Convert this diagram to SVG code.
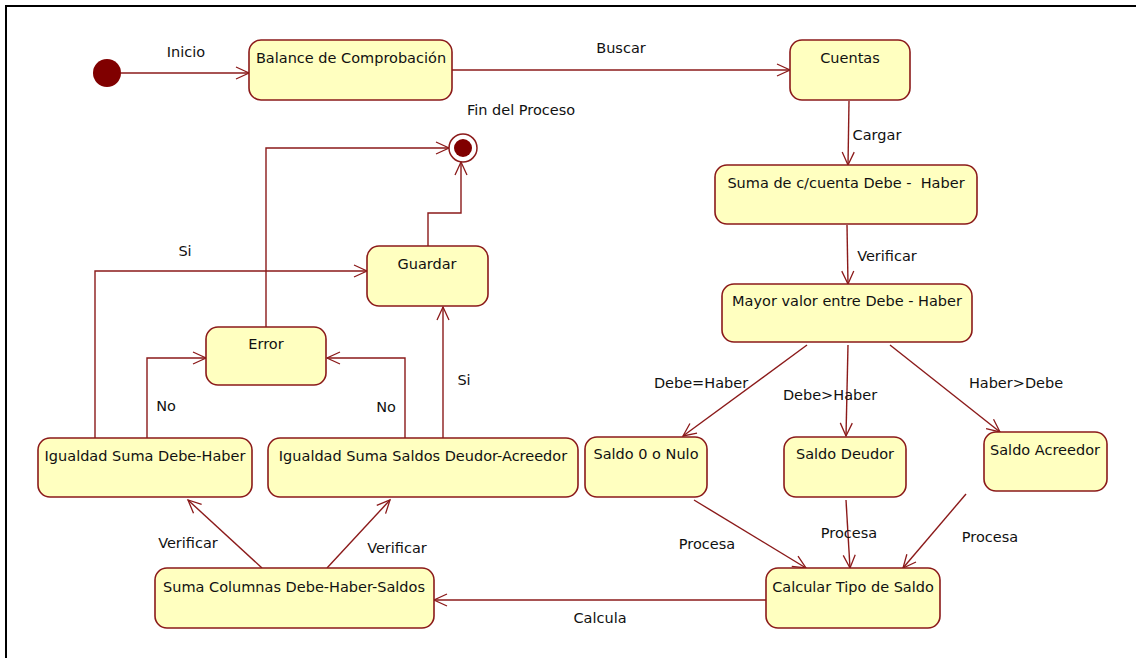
<svg xmlns="http://www.w3.org/2000/svg" width="1136" height="658" viewBox="0 0 1136 658">
<defs>
<marker id="arr" markerWidth="16" markerHeight="14" refX="14" refY="7" orient="auto" markerUnits="userSpaceOnUse">
<path d="M1,1 L14,7 L1,13" fill="none" stroke="#8B1A1A" stroke-width="1.3"/>
</marker>
</defs>
<style>
.st{fill:#FFFFC0;stroke:#8B1A1A;stroke-width:1.6}
.t{font-family:"DejaVu Sans",sans-serif;font-size:14.5px;fill:#111;text-anchor:middle}
.l{font-family:"DejaVu Sans",sans-serif;font-size:14.5px;fill:#111;text-anchor:middle}
.c{fill:none;stroke:#8B1A1A;stroke-width:1.4;marker-end:url(#arr)}
</style>
<rect width="1136" height="658" fill="#fff"/>
<path d="M6,658 V6 H1136" fill="none" stroke="#000" stroke-width="2"/>

<g id="connectors">
<line class="c" x1="121" y1="73" x2="249" y2="73"/>
<line class="c" x1="452" y1="70" x2="790" y2="70"/>
<line class="c" x1="849" y1="101" x2="848" y2="165"/>
<line class="c" x1="847" y1="225" x2="848" y2="284"/>
<line class="c" x1="807" y1="345" x2="683" y2="436"/>
<line class="c" x1="848" y1="345" x2="846" y2="436"/>
<line class="c" x1="890" y1="345" x2="1000" y2="432"/>
<line class="c" x1="694" y1="500" x2="806" y2="568"/>
<line class="c" x1="846" y1="500" x2="850" y2="568"/>
<line class="c" x1="966" y1="494" x2="903" y2="568"/>
<line class="c" x1="766" y1="600" x2="434" y2="600"/>
<line class="c" x1="262" y1="568" x2="188" y2="500"/>
<line class="c" x1="327" y1="568" x2="390" y2="500"/>
<polyline class="c" points="147,438 147,358 206,358"/>
<polyline class="c" points="95,438 95,271 367,271"/>
<polyline class="c" points="405,438 405,358 327,358"/>
<line class="c" x1="443" y1="438" x2="443" y2="307"/>
<polyline class="c" points="266,327 266,148 449,148"/>
<polyline class="c" points="428,246 428,213 461,213 461,162"/>
<text class="l" x="186" y="57">Inicio</text>
<text class="l" x="621" y="53">Buscar</text>
<text class="l" x="877" y="140">Cargar</text>
<text class="l" x="887" y="261">Verificar</text>
<text class="l" x="701" y="388">Debe=Haber</text>
<text class="l" x="830" y="400">Debe&gt;Haber</text>
<text class="l" x="1016" y="388">Haber&gt;Debe</text>
<text class="l" x="707" y="549">Procesa</text>
<text class="l" x="849" y="538">Procesa</text>
<text class="l" x="990" y="542">Procesa</text>
<text class="l" x="600" y="623">Calcula</text>
<text class="l" x="188" y="548">Verificar</text>
<text class="l" x="397" y="553">Verificar</text>
<text class="l" x="166" y="411">No</text>
<text class="l" x="386" y="412">No</text>
<text class="l" x="185" y="256">Si</text>
<text class="l" x="464" y="385">Si</text>
</g>

<g id="initial"><circle cx="107" cy="73" r="14" fill="#800000"/></g>
<g id="final">
<circle cx="463" cy="148" r="14" fill="#fff" stroke="#8B1A1A" stroke-width="1.5"/>
<circle cx="463" cy="148" r="9" fill="#800000"/>
<text class="l" x="521" y="115">Fin del Proceso</text>
</g>

<g id="balance"><rect class="st" x="249" y="40" width="203" height="60" rx="12"/><text class="t" x="351" y="63">Balance de Comprobación</text></g>
<g id="cuentas"><rect class="st" x="790" y="40" width="120" height="60" rx="12"/><text class="t" x="850" y="63">Cuentas</text></g>
<g id="suma-cuenta"><rect class="st" x="715" y="165" width="262" height="59" rx="12"/><text class="t" x="846" y="188" style="white-space:pre">Suma de c/cuenta Debe -  Haber</text></g>
<g id="mayor"><rect class="st" x="722" y="284" width="250" height="58" rx="12"/><text class="t" x="847" y="306">Mayor valor entre Debe - Haber</text></g>
<g id="saldo0"><rect class="st" x="585" y="437" width="122" height="60" rx="12"/><text class="t" x="646" y="459">Saldo 0 o Nulo</text></g>
<g id="deudor"><rect class="st" x="784" y="437" width="122" height="60" rx="12"/><text class="t" x="845" y="459">Saldo Deudor</text></g>
<g id="acreedor"><rect class="st" x="984" y="432" width="123" height="59" rx="12"/><text class="t" x="1045" y="455">Saldo Acreedor</text></g>
<g id="calcular"><rect class="st" x="766" y="568" width="174" height="60" rx="12"/><text class="t" x="853" y="592">Calcular Tipo de Saldo</text></g>
<g id="suma-columnas"><rect class="st" x="155" y="568" width="279" height="60" rx="12"/><text class="t" x="294" y="592">Suma Columnas Debe-Haber-Saldos</text></g>
<g id="igualdad-dh"><rect class="st" x="38" y="438" width="214" height="59" rx="12"/><text class="t" x="145" y="461">Igualdad Suma Debe-Haber</text></g>
<g id="igualdad-da"><rect class="st" x="268" y="438" width="310" height="59" rx="12"/><text class="t" x="423" y="461">Igualdad Suma Saldos Deudor-Acreedor</text></g>
<g id="error"><rect class="st" x="206" y="327" width="120" height="58" rx="12"/><text class="t" x="266" y="349">Error</text></g>
<g id="guardar"><rect class="st" x="367" y="246" width="121" height="60" rx="12"/><text class="t" x="427" y="269">Guardar</text></g>
</svg>
